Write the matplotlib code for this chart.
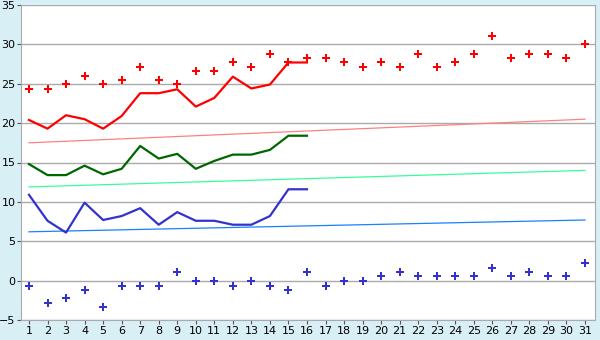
import matplotlib
matplotlib.use("Agg")
import matplotlib.pyplot as plt

days = list(range(1, 32))
line_days = list(range(1, 17))

red_points = [24.3, 24.3, 25.0, 26.0, 25.0, 25.5, 27.1, 25.5, 25.0, 26.6,
              26.6, 27.8, 27.1, 28.8, 27.8, 28.3, 28.3, 27.8, 27.1, 27.8,
              27.1, 28.8, 27.1, 27.8, 28.8, 31.1, 28.3, 28.8, 28.8, 28.3, 30.0]
red_line = [20.4, 19.3, 21.0, 20.5, 19.3, 20.9, 23.8, 23.8, 24.3, 22.1,
            23.2, 25.9, 24.4, 24.9, 27.7, 27.7]
green_line = [14.8, 13.4, 13.4, 14.6, 13.5, 14.2, 17.1, 15.5, 16.1, 14.2,
              15.2, 16.0, 16.0, 16.6, 18.4, 18.4]
blue_line = [10.9, 7.6, 6.1, 9.9, 7.7, 8.2, 9.2, 7.1, 8.7, 7.6,
             7.6, 7.1, 7.1, 8.2, 11.6, 11.6]
blue_points = [-0.7, -2.8, -2.2, -1.2, -3.3, -0.7, -0.7, -0.7, 1.1, 0.0,
               0.0, -0.7, 0.0, -0.7, -1.2, 1.1, -0.7, 0.0, 0.0, 0.6,
               1.1, 0.6, 0.6, 0.6, 0.6, 1.6, 0.6, 1.1, 0.6, 0.6, 2.2]

trend_days = [1, 31]
red_trend = [17.5, 20.5]
green_trend = [11.9, 14.0]
blue_trend = [6.2, 7.7]

bg = "#d9eff6"
fig = plt.figure(figsize=(6, 3.4), dpi=100, facecolor=bg)
ax = fig.add_axes([21 / 600, 1 - 320 / 340, 574 / 600, 315 / 340])
ax.set_facecolor("white")

ax.plot(trend_days, red_trend, color="#ff8080", lw=0.9)
ax.plot(trend_days, green_trend, color="#33ff99", lw=0.9)
ax.plot(trend_days, blue_trend, color="#1a80ff", lw=0.9)

ax.plot(line_days, red_line, color="#ff0000", lw=1.6)
ax.plot(line_days, green_line, color="#006600", lw=1.6)
ax.plot(line_days, blue_line, color="#3333cc", lw=1.6)

ax.plot(days, red_points, ls="none", marker="P", ms=5.5, color="#ff0000", mew=0)
ax.plot(days, blue_points, ls="none", marker="P", ms=5.5, color="#3333cc", mew=0)

ax.set_xlim(0.57, 31.54)
ax.set_ylim(-5, 35)
ax.set_xticks(days)
ax.set_yticks(range(-5, 36, 5))
ax.yaxis.grid(True, color="#aaaaaa", lw=1)
ax.set_axisbelow(True)
for s in ax.spines.values():
    s.set_color("#aaaaaa")
ax.spines["top"].set_visible(False)
ax.tick_params(axis="both", direction="out", length=3, color="#555555",
               labelsize=8, pad=1)

fig.savefig("out.png", dpi=100, facecolor=bg)
